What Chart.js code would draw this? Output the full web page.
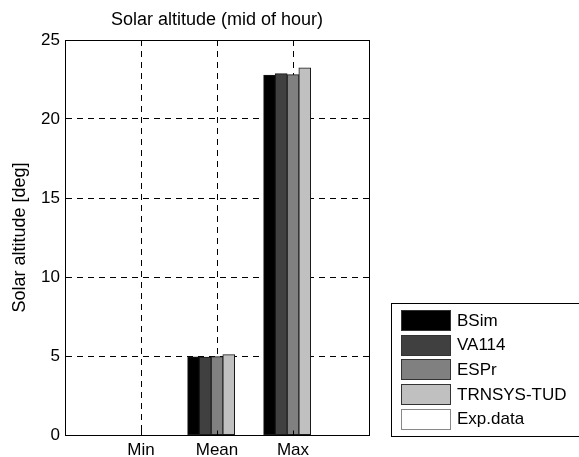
<!DOCTYPE html>
<html>
<head>
<meta charset="utf-8">
<script src="https://cdn.jsdelivr.net/npm/chart.js@4.4.0/dist/chart.umd.min.js"></script>
<style>
  html, body { margin: 0; padding: 0; background: #fff; }
  canvas { display: block; }
</style>
</head>
<body>
<canvas id="chart" width="579" height="457"></canvas>
<script>
// values
const categories = ["Min", "Mean", "Max"];
const bsim = [0, 4.95, 22.77];
const va114 = [0, 4.93, 22.87];
const espr = [0, 4.96, 22.81];
const trnsys = [0, 5.08, 23.23];
const expData = [null, null, null]; // no measured bars shown
const seriesNames = ["BSim", "VA114", "ESPr", "TRNSYS-TUD", "Exp.data"];
const seriesColors = ["#000000", "#404040", "#808080", "#c0c0c0", "#ffffff"];
const yTicks = [0, 5, 10, 15, 20, 25];

// groups sit at 1..3 on a 0..4 axis, so pad both ends with empty slots
const labels = ["", ...categories, ""];
const pad = arr => [null, ...arr, null];
const allSeries = [bsim, va114, espr, trnsys, expData];

const FONT = "'Liberation Sans', Arial, Helvetica, sans-serif";
Chart.defaults.color = "#000";
Chart.defaults.font.family = FONT;

const datasets = allSeries.map((vals, i) => ({
  label: seriesNames[i],
  data: pad(vals),
  backgroundColor: seriesColors[i],
  borderColor: "#1a1a1a",
  borderWidth: 1,
  borderSkipped: false,
  inflateAmount: 0.4,
  categoryPercentage: 0.772,
  barPercentage: 1
}));

// box, inward ticks and legend like the matlab figure
const matlabBox = {
  id: "matlabBox",
  afterDraw(chart) {
    const { ctx, chartArea: a, scales: { x, y } } = chart;
    const al = p => Math.round(p - 0.5) + 0.5;
    ctx.save();
    ctx.strokeStyle = "#000";
    ctx.lineWidth = 1;
    ctx.setLineDash([]);
    ctx.beginPath();
    ctx.moveTo(al(a.left), al(a.top));
    ctx.lineTo(al(a.right), al(a.top));
    ctx.lineTo(al(a.right), al(a.bottom));
    // ticks on y, both sides
    yTicks.forEach(v => {
      const py = al(y.getPixelForValue(v));
      ctx.moveTo(al(a.left), py); ctx.lineTo(al(a.left) + 5, py);
      ctx.moveTo(al(a.right), py); ctx.lineTo(al(a.right) - 5, py);
    });
    // ticks on x, top and bottom
    categories.forEach((c, i) => {
      const px = al(x.getPixelForValue(i + 1));
      ctx.moveTo(px, al(a.bottom)); ctx.lineTo(px, al(a.bottom) - 5);
      ctx.moveTo(px, al(a.top)); ctx.lineTo(px, al(a.top) + 5);
    });
    ctx.stroke();

    // legend
    const lx = 391.5, ly = 303.5, lw = 200, lh = 133;
    ctx.fillStyle = "#fff";
    ctx.fillRect(lx, ly, lw, lh);
    ctx.strokeRect(lx, ly, lw, lh);
    ctx.font = "17px " + FONT;
    ctx.textBaseline = "middle";
    ctx.textAlign = "left";
    chart.data.datasets.forEach((ds, i) => {
      const cy = 320 + i * 24.7;
      ctx.fillStyle = ds.backgroundColor;
      ctx.fillRect(401.5, Math.round(cy - 10) + 0.5, 49, 20);
      ctx.strokeStyle = i === 4 ? "#888" : "#333";
      ctx.strokeRect(401.5, Math.round(cy - 10) + 0.5, 49, 20);
      ctx.fillStyle = "#000";
      ctx.fillText(ds.label, 457, cy + 1);
    });
    ctx.restore();
  }
};

new Chart(document.getElementById("chart"), {
  type: "bar",
  data: { labels: labels, datasets: datasets },
  options: {
    responsive: false,
    animation: false,
    devicePixelRatio: 1,
    layout: { padding: { left: 0, right: 210, top: 0, bottom: 0 } },
    plugins: {
      legend: { display: false },
      tooltip: { enabled: false },
      title: {
        display: true,
        text: "Solar altitude (mid of hour)",
        fullSize: false,
        color: "#000",
        font: { size: 18, weight: "normal", family: FONT },
        padding: { top: 9, bottom: 9.4 }
      }
    },
    scales: {
      x: {
        type: "category",
        offset: false,
        afterFit: s => { s.height = 22; },
        grid: { display: true, offset: false, color: "#000", lineWidth: 1, drawTicks: false },
        border: { display: true, color: "#000", width: 1, dash: [6, 5] },
        ticks: { padding: 5, font: { size: 17 }, color: "#000", autoSkip: false, maxRotation: 0 }
      },
      y: {
        min: 0,
        max: 25,
        afterFit: s => { s.width = 65; },
        afterBuildTicks: s => { s.ticks = yTicks.map(v => ({ value: v })); },
        grid: { display: true, color: "#000", lineWidth: 1, drawTicks: false },
        border: { display: true, color: "#000", width: 1, dash: [6, 5] },
        ticks: { padding: 5, font: { size: 17 }, color: "#000" },
        title: {
          display: true,
          text: "Solar altitude [deg]",
          color: "#000",
          font: { size: 18, family: FONT },
          padding: { top: 9, bottom: 0 }
        }
      }
    }
  },
  plugins: [matlabBox]
});
</script>
</body>
</html>
